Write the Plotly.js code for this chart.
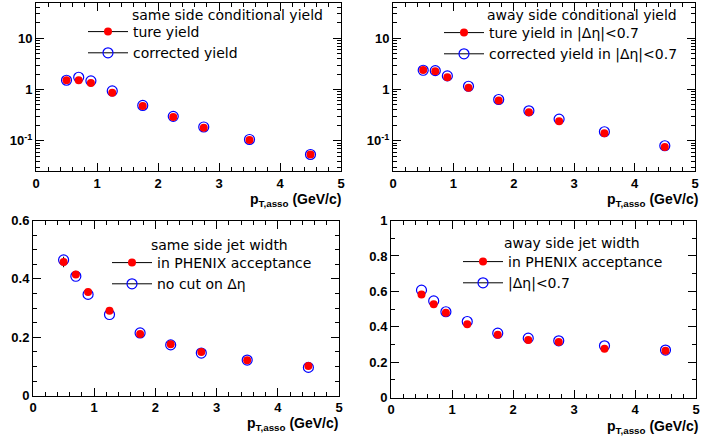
<!DOCTYPE html>
<html>
<head>
<meta charset="utf-8">
<script src="https://cdn.plot.ly/plotly-3.0.1.min.js"></script>
<style>html,body{margin:0;padding:0;background:#fff;}#chart{width:701px;height:438px;}</style>
</head>
<body>
<div id="chart"></div>
<script>
// ---- data ----
const ptAsso = [0.5, 0.7, 0.9, 1.25, 1.75, 2.25, 2.75, 3.5, 4.5];

const sameYieldTrue      = [1.52, 1.52, 1.35, 0.87, 0.48, 0.29, 0.18, 0.104, 0.0537];
const sameYieldCorrected = [1.52, 1.74, 1.48, 0.94, 0.49, 0.30, 0.186, 0.106, 0.054];

const awayYieldTrue      = [2.42, 2.28, 1.74, 1.09, 0.61, 0.36, 0.24, 0.141, 0.076];
const awayYieldCorrected = [2.38, 2.34, 1.85, 1.16, 0.64, 0.385, 0.265, 0.15, 0.080];

const sameWidthTrue      = [0.458, 0.415, 0.355, 0.291, 0.211, 0.176, 0.150, 0.121, 0.102];
const sameWidthNoCut     = [0.465, 0.409, 0.347, 0.278, 0.215, 0.174, 0.146, 0.122, 0.097];
const sameWidthTrueErr   = [0.018, 0.006, 0.004, 0.003, 0.002, 0.002, 0.002, 0.002, 0.002];

const awayWidthTrue      = [0.582, 0.528, 0.479, 0.415, 0.355, 0.325, 0.314, 0.276, 0.265];
const awayWidthEta       = [0.607, 0.546, 0.485, 0.430, 0.364, 0.336, 0.321, 0.293, 0.269];

const headings = ['same side conditional yield', 'away side conditional yield',
                  'same side jet width', 'away side jet width'];
const legendTrue = ['ture yield', 'ture yield in |\u0394\u03b7|<0.7',
                    'in PHENIX acceptance', 'in PHENIX acceptance'];
const legendCorr = ['corrected yield', 'corrected yield in |\u0394\u03b7|<0.7',
                    'no cut on \u0394\u03b7', '|\u0394\u03b7|<0.7'];
const xTitle = '<b>p<sub>T,asso</sub> (GeV/c)</b>';
const xTickVals = [0, 1, 2, 3, 4, 5];
const xTickText = ['0', '1', '2', '3', '4', '5'];
const logTickVals = [0.1, 1, 10];
const logTickText = ['10<sup>-1</sup>', '1', '10'];
const sameWidthTickVals = [0, 0.2, 0.4, 0.6];
const sameWidthTickText = ['0', '0.2', '0.4', '0.6'];
const awayWidthTickVals = [0, 0.2, 0.4, 0.6, 0.8, 1];
const awayWidthTickText = ['0', '0.2', '0.4', '0.6', '0.8', '1'];

// ---- style ----
const W = 701, H = 438;
const RED = '#ff0000', BLUE = '#0000ff';
const tickFont = {family: 'Liberation Sans, Arial, sans-serif', size: 13, color: '#000', weight: 700};
const legFont = {family: 'DejaVu Sans, sans-serif', size: 14, color: '#000'};
const bold = arr => arr.map(s => '<b>' + s + '</b>');

function px(x) { return x / W; }
function py(y) { return (H - y) / H; }

// frames in pixels [left, right, top, bottom]
const frames = [[36, 341, 3, 171], [393, 695, 3, 171], [33, 339, 220.5, 395.7], [391, 696, 220.5, 397.7]];

const minorLog = [];
for (const d of [0.01, 0.1, 1, 10]) for (let k = 2; k <= 9; k++) minorLog.push(+(k * d).toPrecision(3));

function baseAxis() {
  return {
    showline: true, linecolor: '#000', linewidth: 1, mirror: 'allticks',
    ticks: 'inside', ticklen: 8, tickcolor: '#000', tickmode: 'array',
    showgrid: false, zeroline: false, tickfont: tickFont
  };
}
function xAxis(i) {
  const f = frames[i];
  return Object.assign(baseAxis(), {
    domain: [px(f[0]), px(f[1])], range: [0, 5], anchor: i === 0 ? 'y' : 'y' + (i + 1),
    tickvals: xTickVals, ticktext: bold(xTickText),
    minor: {ticks: 'inside', ticklen: 4, dtick: 0.2, tick0: 0, tickcolor: '#000', showgrid: false}
  });
}
function yAxisLog(i) {
  const f = frames[i];
  return Object.assign(baseAxis(), {
    domain: [py(f[3]), py(f[2])], type: 'log', range: [-1.59, 1.69], anchor: i === 0 ? 'x' : 'x' + (i + 1),
    tickvals: logTickVals, ticktext: bold(logTickText),
    minor: {ticks: 'inside', ticklen: 4, tickmode: 'array', tickvals: minorLog, tickcolor: '#000', showgrid: false}
  });
}
function yAxisLin(i, top, vals, text, minorStep) {
  const f = frames[i];
  return Object.assign(baseAxis(), {
    domain: [py(f[3]), py(f[2])], range: [0, top], anchor: 'x' + (i + 1),
    tickvals: vals, ticktext: bold(text),
    minor: {ticks: 'inside', ticklen: 4, dtick: minorStep, tick0: 0, tickcolor: '#000', showgrid: false}
  });
}

const panels = [
  {t: sameYieldTrue, c: sameYieldCorrected, e: null},
  {t: awayYieldTrue, c: awayYieldCorrected, e: null},
  {t: sameWidthTrue, c: sameWidthNoCut, e: sameWidthTrueErr},
  {t: awayWidthTrue, c: awayWidthEta, e: null}
];

const traces = [];
panels.forEach((p, i) => {
  const xa = i === 0 ? 'x' : 'x' + (i + 1);
  const ya = i === 0 ? 'y' : 'y' + (i + 1);
  const lg = i === 0 ? 'legend' : 'legend' + (i + 1);
  traces.push({x: ptAsso, y: p.c, xaxis: xa, yaxis: ya, mode: 'markers', showlegend: false,
    marker: {symbol: 'circle-open', size: 10, color: BLUE, line: {width: 1.2, color: BLUE}}});
  const tr = {x: ptAsso, y: p.t, xaxis: xa, yaxis: ya, mode: 'markers', showlegend: false,
    marker: {symbol: 'circle', size: 8, color: RED}};
  if (p.e) tr.error_y = {type: 'data', array: p.e, color: '#000', thickness: 1, width: 0};
  traces.push(tr);
  // legend entries
  traces.push({x: [null], y: [null], xaxis: xa, yaxis: ya, mode: 'lines+markers', name: legendTrue[i],
    legend: lg, line: {color: '#000', width: 1}, marker: {symbol: 'circle', size: 8, color: RED}});
  traces.push({x: [null], y: [null], xaxis: xa, yaxis: ya, mode: 'lines+markers', name: legendCorr[i],
    legend: lg, line: {color: '#000', width: 1},
    marker: {symbol: 'circle-open', size: 10, color: BLUE, line: {width: 1.2, color: BLUE}}});
});

function legendAt(x, y) {
  return {x: px(x), y: py(y), xanchor: 'left', yanchor: 'top', bgcolor: 'rgba(0,0,0,0)',
    borderwidth: 0, font: legFont, itemwidth: 40, tracegroupgap: 0, itemclick: false};
}

const headPos = [[130, 15], [485, 15], [149, 245], [502, 243]];
const titlePos = [[343, 200], [700, 200], [340, 424], [700, 427]];

const annotations = [];
headings.forEach((h, i) => annotations.push({text: h, xref: 'paper', yref: 'paper',
  x: px(headPos[i][0]), y: py(headPos[i][1]), xanchor: 'left', yanchor: 'middle',
  showarrow: false, font: legFont}));
titlePos.forEach(p => annotations.push({text: xTitle, xref: 'paper', yref: 'paper',
  x: px(p[0]), y: py(p[1]), xanchor: 'right', yanchor: 'middle', showarrow: false,
  font: {family: 'Liberation Sans, Arial, sans-serif', size: 14, color: '#000'}}));

const layout = {
  width: W, height: H, margin: {l: 0, r: 0, t: 0, b: 0},
  paper_bgcolor: '#fff', plot_bgcolor: '#fff', showlegend: true,
  xaxis: xAxis(0), yaxis: yAxisLog(0),
  xaxis2: xAxis(1), yaxis2: yAxisLog(1),
  xaxis3: xAxis(2), yaxis3: yAxisLin(2, 0.6, sameWidthTickVals, sameWidthTickText, 0.05),
  xaxis4: xAxis(3), yaxis4: yAxisLin(3, 1.0, awayWidthTickVals, awayWidthTickText, 0.1),
  legend: legendAt(83, 16), legend2: legendAt(439, 17),
  legend3: legendAt(107, 247), legend4: legendAt(458, 246),
  annotations: annotations
};

Plotly.newPlot('chart', traces, layout, {displayModeBar: false, staticPlot: true});
</script>
</body>
</html>
